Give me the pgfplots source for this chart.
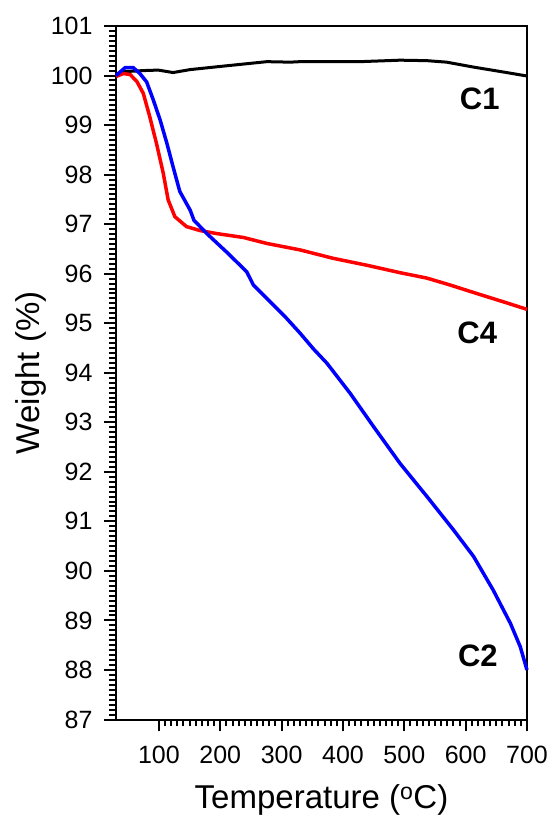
\documentclass[border=0pt]{standalone}
\usepackage{fontspec}
\setmainfont{Liberation Sans}
\usepackage{pgfplots}
\pgfplotsset{compat=1.18}
\begin{document}
\begin{tikzpicture}
\begin{axis}[
  at={(0pt,0pt)}, anchor=south west,
  scale only axis, width=411pt, height=693.5pt,
  xmin=30, xmax=700, ymin=87, ymax=101,
  xtick={100,200,...,700}, ytick={87,88,...,101},
  minor x tick num=9, minor y tick num=9,
  tick pos=left, tick align=outside,
  major tick length=12pt, minor tick length=7pt,
  every tick/.style={line width=2pt, black},
  axis line style={line width=2pt},
  /pgf/number format/assume math mode=true,
  ticklabel style={font=\fontsize{25}{29}\selectfont},
  yticklabel style={xshift=-8pt},
  xticklabel style={yshift=-11pt},
  xlabel={Temperature (\textsuperscript{o}C)},
  ylabel={Weight (\%)},
  label style={font=\fontsize{33}{38}\selectfont},
  xlabel style={at={(axis description cs:0.5,-0.0937)}, anchor=north, inner sep=0pt},
  ylabel style={at={(axis description cs:-0.2457,0.5)}, anchor=north, inner sep=0pt},
  clip=false,
]
\addplot[black, line width=3pt] coordinates {
(30,100.0) (45,100.08) (75,100.10) (99,100.11) (123,100.06) (151,100.12) (205,100.19) (276,100.28) (314,100.27) (330,100.28) (428,100.28) (493,100.31) (537,100.30) (569,100.27) (613,100.17) (667,100.06) (700,99.99)
};
\addplot[red, line width=3.5pt] coordinates {
(30,99.98) (42,100.04) (53,100.02) (64,99.88) (74.5,99.64) (85,99.17) (96,98.63) (107,98.03) (115,97.49) (126,97.15) (145,96.95) (167,96.87) (194,96.81) (238,96.73) (276,96.61) (330,96.48) (384,96.31) (439,96.17) (493,96.02) (537,95.91) (575,95.77) (618,95.60) (662,95.43) (700,95.28)
};
\addplot[blue, line width=3.5pt] coordinates {
(30,100.0) (45,100.16) (58,100.16) (69,100.04) (80,99.87) (91,99.50) (102,99.10) (113,98.63) (123,98.16) (134,97.66) (151,97.28) (157,97.08) (178,96.81) (210,96.44) (243,96.04) (254,95.77) (276,95.50) (308,95.10) (330,94.80) (352,94.48) (374,94.19) (412,93.58) (450,92.91) (493,92.17) (537,91.50) (580,90.83) (613,90.29) (645,89.61) (673,88.94) (689,88.47) (700,88.00)
};
\node[font=\fontsize{31}{36}\selectfont\bfseries] at (axis cs:623,99.53) {C1};
\node[font=\fontsize{31}{36}\selectfont\bfseries] at (axis cs:619,94.81) {C4};
\node[font=\fontsize{31}{36}\selectfont\bfseries] at (axis cs:620,88.28) {C2};
\end{axis}
\pgfresetboundingbox
\path[use as bounding box] (-116pt,-97.5pt) rectangle (438pt,719.5pt);
\end{tikzpicture}
\end{document}
